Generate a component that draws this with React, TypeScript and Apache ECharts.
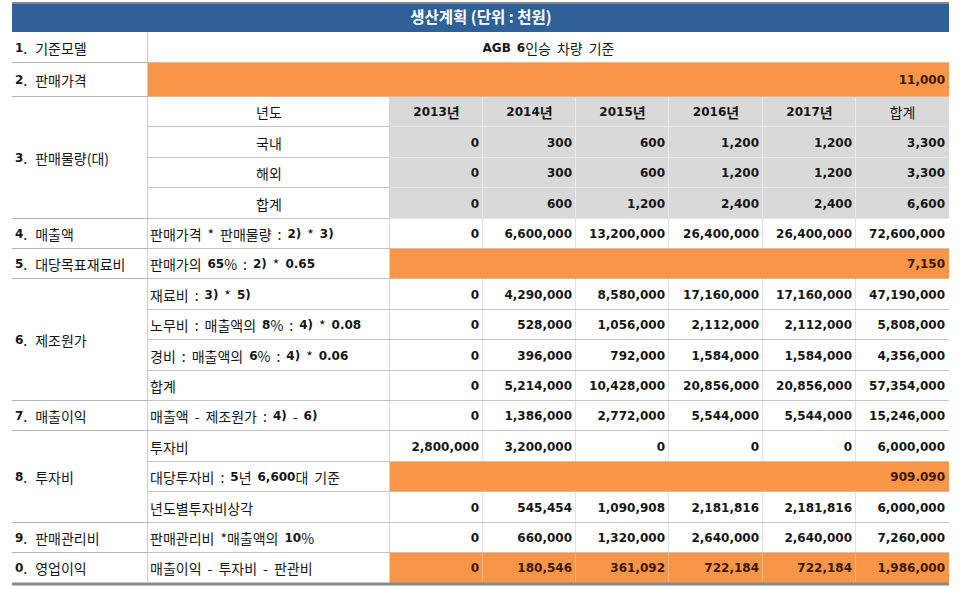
import React, { useEffect, useRef } from "react";
import * as echarts from "echarts";

// ---------- data ----------
const TITLE = "생산계획 (단위 : 천원)";
const YEAR_HEADER = "년도";
const YEARS = ["2013년", "2014년", "2015년", "2016년", "2017년", "합계"];

const MODEL_LABEL = ["1", "기준모델"];
const MODEL_TEXT = "AGB 6인승 차량 기준";

const PRICE_LABEL = ["2", "판매가격"];
const SALES_PRICE = 11000;

const QTY_LABEL = ["3", "판매물량(대)"];
const QTY_ROWS = ["국내", "해외", "합계"];
const DOMESTIC = [0, 300, 600, 1200, 1200, 3300];
const OVERSEAS = [0, 300, 600, 1200, 1200, 3300];
const QTY_TOTAL = [0, 600, 1200, 2400, 2400, 6600];

const REVENUE_LABEL = ["4", "매출액"];
const REVENUE_DESC = "판매가격 * 판매물량 : 2) * 3)";
const REVENUE = [0, 6600000, 13200000, 26400000, 26400000, 72600000];

const MATERIAL_TARGET_LABEL = ["5", "대당목표재료비"];
const MATERIAL_TARGET_DESC = "판매가의 65% : 2) * 0.65";
const MATERIAL_TARGET = 7150;

const MFG_LABEL = ["6", "제조원가"];
const MFG_ROWS = ["재료비 : 3) * 5)", "노무비 : 매출액의 8% : 4) * 0.08", "경비 : 매출액의 6% : 4) * 0.06", "합계"];
const MATERIAL_COST = [0, 4290000, 8580000, 17160000, 17160000, 47190000];
const LABOR_COST = [0, 528000, 1056000, 2112000, 2112000, 5808000];
const EXPENSE = [0, 396000, 792000, 1584000, 1584000, 4356000];
const MFG_TOTAL = [0, 5214000, 10428000, 20856000, 20856000, 57354000];

const GROSS_LABEL = ["7", "매출이익"];
const GROSS_DESC = "매출액 - 제조원가 : 4) - 6)";
const GROSS_PROFIT = [0, 1386000, 2772000, 5544000, 5544000, 15246000];

const INVEST_LABEL = ["8", "투자비"];
const INVEST_ROWS = ["투자비", "대당투자비 : 5년 6,600대 기준", "년도별투자비상각"];
const INVESTMENT = [2800000, 3200000, 0, 0, 0, 6000000];
const UNIT_INVESTMENT = "909.090";
const DEPRECIATION = [0, 545454, 1090908, 2181816, 2181816, 6000000];

const SGA_LABEL = ["9", "판매관리비"];
const SGA_DESC = "판매관리비 *매출액의 10%";
const SGA = [0, 660000, 1320000, 2640000, 2640000, 7260000];

const OP_LABEL = ["0", "영업이익"];
const OP_DESC = "매출이익 - 투자비 - 판관비";
const OPERATING_PROFIT = [0, 180546, 361092, 722184, 722184, 1986000];

// ---------- layout & style ----------
const COL_W = [136, 242, 93.2, 93.2, 93.2, 93.2, 93.2, 93.2];
const ROW_H = [31, 34, 30.4, 30.4, 30.4, 30.4, 30.4, 30.4, 30.4, 30.4, 30.4, 30.4, 30.4, 30.4, 30.4, 30.4, 30.4, 30.4];
const cum = (a: number[]) => a.reduce((acc: number[], v) => { acc.push(acc[acc.length - 1] + v); return acc; }, [0]);
const EX = cum(COL_W);
const EY = cum(ROW_H);

const BLUE = "#2F6198";
const ORANGE = "#F79646";
const GRAY = "#D9D9D9";
const INK = "#161616";
const ORANGE_INK = "#3d1600";
const FONT_KR = '"Noto Sans CJK KR", "Noto Sans", sans-serif';
const FONT_NUM = '"DejaVu Sans", Verdana, sans-serif';
const KR_SIZE = 14;
const NUM_SIZE = 12;
const SPACE_W = 6;
const LABEL_GAP_W = 8;

type Kind = "label" | "desc" | "num" | "head";
interface Cell {
  c0: number; c1: number; r0: number; r1: number;
  text: string; kind: Kind; align: "left" | "center" | "right";
  fill?: string; color: string; bottom: string; right: string; last?: boolean;
}

const fmt = (v: number) => v.toLocaleString("en-US");
const cells: Cell[] = [];
function add(c0: number, c1: number, r0: number, r1: number, text: string, kind: Kind, align: Cell["align"], fill?: string) {
  const isOrange = fill === ORANGE;
  const isGray = fill === GRAY;
  let bottom = "#c6c6c6";
  let right = "#e0e0e0";
  if (c0 === 0) { bottom = "#b5b5b5"; right = "#cfcfcf"; }
  else if (c0 === 1) { bottom = "#c4c4c4"; right = "#d4d4d4"; }
  if (isGray) { bottom = "#e6e6e6"; right = "#ececec"; }
  if (isOrange) { bottom = "#f3b27c"; right = "#f9b582"; }
  cells.push({ c0, c1, r0, r1, text, kind, align, fill, color: isOrange ? ORANGE_INK : INK, bottom, right, last: r1 === ROW_H.length });
}
const label = (l: string[]) => `{b|${l[0]}}{n|.}{g| }{n|${l[1]}}`;
function valuesRow(r: number, vals: number[], fill?: string) {
  vals.forEach((v, i) => add(2 + i, 3 + i, r, r + 1, fmt(v), "num", "right", fill));
}

// row 0
add(0, 1, 0, 1, label(MODEL_LABEL), "label", "left");
add(1, 8, 0, 1, MODEL_TEXT, "desc", "center");
// row 1
add(0, 1, 1, 2, label(PRICE_LABEL), "label", "left");
add(1, 8, 1, 2, fmt(SALES_PRICE), "num", "right", ORANGE);
// rows 2-5
add(0, 1, 2, 6, label(QTY_LABEL), "label", "left");
add(1, 2, 2, 3, YEAR_HEADER, "desc", "center");
YEARS.forEach((y, i) => add(2 + i, 3 + i, 2, 3, y, i < YEARS.length - 1 ? "head" : "desc", "center", GRAY));
[DOMESTIC, OVERSEAS, QTY_TOTAL].forEach((vals, k) => {
  add(1, 2, 3 + k, 4 + k, QTY_ROWS[k], "desc", "center");
  valuesRow(3 + k, vals, GRAY);
});
// row 6
add(0, 1, 6, 7, label(REVENUE_LABEL), "label", "left");
add(1, 2, 6, 7, REVENUE_DESC, "desc", "left");
valuesRow(6, REVENUE);
// row 7
add(0, 1, 7, 8, label(MATERIAL_TARGET_LABEL), "label", "left");
add(1, 2, 7, 8, MATERIAL_TARGET_DESC, "desc", "left");
add(2, 8, 7, 8, fmt(MATERIAL_TARGET), "num", "right", ORANGE);
// rows 8-11
add(0, 1, 8, 12, label(MFG_LABEL), "label", "left");
[MATERIAL_COST, LABOR_COST, EXPENSE, MFG_TOTAL].forEach((vals, k) => {
  add(1, 2, 8 + k, 9 + k, MFG_ROWS[k], "desc", "left");
  valuesRow(8 + k, vals);
});
// row 12
add(0, 1, 12, 13, label(GROSS_LABEL), "label", "left");
add(1, 2, 12, 13, GROSS_DESC, "desc", "left");
valuesRow(12, GROSS_PROFIT);
// rows 13-15
add(0, 1, 13, 16, label(INVEST_LABEL), "label", "left");
add(1, 2, 13, 14, INVEST_ROWS[0], "desc", "left");
valuesRow(13, INVESTMENT);
add(1, 2, 14, 15, INVEST_ROWS[1], "desc", "left");
add(2, 8, 14, 15, UNIT_INVESTMENT, "num", "right", ORANGE);
add(1, 2, 15, 16, INVEST_ROWS[2], "desc", "left");
valuesRow(15, DEPRECIATION);
// row 16
add(0, 1, 16, 17, label(SGA_LABEL), "label", "left");
add(1, 2, 16, 17, SGA_DESC, "desc", "left");
valuesRow(16, SGA);
// row 17
add(0, 1, 17, 18, label(OP_LABEL), "label", "left");
add(1, 2, 17, 18, OP_DESC, "desc", "left");
valuesRow(17, OPERATING_PROFIT, ORANGE);

const BOLD_RUN = /([A-Za-z0-9,.()]+)/;
const BOLD_TEST = /^[A-Za-z0-9,.()]+$/;
function richify(s: string): string {
  const out: string[] = [];
  s.split(/( )/).forEach((part) => {
    if (part === " ") { out.push("{s| }"); return; }
    part.split(BOLD_RUN).filter((p) => p.length > 0)
      .forEach((p) => out.push(BOLD_TEST.test(p) ? `{b|${p}}` : `{n|${p}}`));
  });
  return out.join("");
}

export default function App() {
  const ref = useRef<HTMLDivElement>(null);
  useEffect(() => {
    const chart = echarts.init(ref.current!, undefined, { renderer: "svg" });
    chart.setOption({
      animation: false,
      backgroundColor: "#ffffff",
      title: {
        text: TITLE,
        left: "center",
        top: 8,
        padding: 0,
        textStyle: { color: "#ffffff", fontFamily: FONT_KR, fontSize: 15.5, fontWeight: "bold" },
      },
      graphic: [
        { type: "rect", left: 12, top: 3, shape: { width: 937, height: 29 }, style: { fill: BLUE }, z: -1 },
        { type: "line", shape: { x1: 12, y1: 3, x2: 949, y2: 3 }, style: { stroke: "#8a8a8a", lineWidth: 2 }, z: 0 },
      ],
      grid: { left: 12, top: 32, width: 937, height: EY[EY.length - 1] },
      xAxis: { type: "value", min: 0, max: EX[EX.length - 1], show: false },
      yAxis: { type: "value", min: 0, max: EY[EY.length - 1], inverse: true, show: false },
      series: [
        {
          type: "custom",
          clip: false,
          encode: { x: [0, 1], y: [2, 3] },
          data: cells.map((c) => [EX[c.c0], EX[c.c1], EY[c.r0], EY[c.r1]]),
          renderItem: (params: any, api: any) => {
            const c = cells[params.dataIndex];
            const p0 = api.coord([api.value(0), api.value(2)]);
            const p1 = api.coord([api.value(1), api.value(3)]);
            const x0 = Math.round(p0[0]);
            const y0 = Math.round(p0[1]);
            const x1 = Math.round(p1[0]);
            const y1 = Math.round(p1[1]);
            const children: any[] = [];
            if (c.fill) {
              children.push({ type: "rect", shape: { x: x0, y: y0, width: x1 - x0, height: y1 - y0 }, style: { fill: c.fill }, z2: 0 });
            }
            if (c.last) {
              children.push({ type: "line", shape: { x1: x0, y1: y1 + 1, x2: x1, y2: y1 + 1 }, style: { stroke: "#8a8a8a", lineWidth: 3 }, z2: 3 });
            } else {
              children.push({ type: "line", shape: { x1: x0, y1: y1 - 0.5, x2: x1, y2: y1 - 0.5 }, style: { stroke: c.bottom, lineWidth: 1 }, z2: 2 });
            }
            if (c.c1 < 8) {
              children.push({ type: "line", shape: { x1: x1 - 0.5, y1: y0, x2: x1 - 0.5, y2: y1 - 1 }, style: { stroke: c.right, lineWidth: 1 }, z2: 1 });
            }
            const tx = c.align === "left" ? x0 + 2 : c.align === "center" ? (x0 + x1) / 2 : x1 - 4;
            const ty = (y0 + y1) / 2;
            if (c.kind === "num") {
              children.push({
                type: "text", z2: 5,
                style: {
                  text: c.text, x: tx, y: ty, align: c.align, verticalAlign: "middle",
                  fontFamily: FONT_NUM, fontSize: NUM_SIZE, fontWeight: "bold", fill: c.color,
                },
              });
            } else {
              const txt = c.kind === "label" ? c.text : richify(c.text);
              const head = c.kind === "head";
              children.push({
                type: "text", z2: 5,
                style: {
                  text: txt, x: tx + (c.kind === "label" ? 1 : 0), y: ty, align: c.align, verticalAlign: "middle",
                  rich: {
                    n: { fontFamily: FONT_KR, fontSize: KR_SIZE, fontWeight: head ? "bold" : "normal", fill: c.color, color: c.color },
                    b: { fontFamily: FONT_NUM, fontSize: NUM_SIZE, fontWeight: "bold", fill: c.color, color: c.color },
                    s: { fontFamily: FONT_KR, fontSize: KR_SIZE, width: SPACE_W, fill: c.color },
                    g: { fontFamily: FONT_KR, fontSize: KR_SIZE, width: LABEL_GAP_W, fill: c.color },
                  },
                },
              });
            }
            return { type: "group", children };
          },
        },
      ],
    });
    return () => chart.dispose();
  }, []);
  return <div ref={ref} style={{ position: "fixed", left: 0, top: 0, width: 962, height: 589 }} />;
}
